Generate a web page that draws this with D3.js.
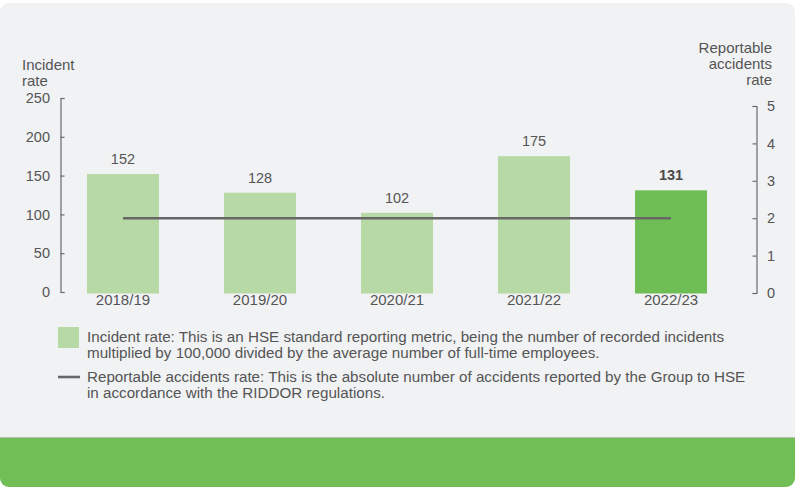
<!DOCTYPE html>
<html>
<head>
<meta charset="utf-8">
<script src="https://cdn.jsdelivr.net/npm/d3@7"></script>
<style>
  body { margin: 0; background: #fff; }
  svg { display: block; font-family: "Liberation Sans", Arial, sans-serif; }
</style>
</head>
<body>
<svg id="chart" width="795" height="487"></svg>
<script>
// chart data
var years = ["2018/19", "2019/20", "2020/21", "2021/22", "2022/23"];
var incidentRate = [152, 128, 102, 175, 131];
var reportableRate = [2, 2, 2, 2, 2];
var leftTicks = [0, 50, 100, 150, 200, 250];
var rightTicks = [0, 1, 2, 3, 4, 5];
var leftTitle = ["Incident", "rate"];
var rightTitle = ["Reportable", "accidents", "rate"];
var legendBar = ["Incident rate: This is an HSE standard reporting metric, being the number of recorded incidents",
                 "multiplied by 100,000 divided by the average number of full-time employees."];
var legendLine = ["Reportable accidents rate: This is the absolute number of accidents reported by the Group to HSE",
                  "in accordance with the RIDDOR regulations."];

var textCol = "#555", axisCol = "#6b6b6b";
var lightGreen = "#b6d9a6", darkGreen = "#6fbe55";

var svg = d3.select("#chart");

// card background
var defs = svg.append("defs");
defs.append("clipPath").attr("id", "card")
    .append("rect").attr("x", 0).attr("y", 3).attr("width", 795).attr("height", 484).attr("rx", 9);
var card = svg.append("g").attr("clip-path", "url(#card)");
card.append("rect").attr("x", 0).attr("y", 0).attr("width", 795).attr("height", 487).attr("fill", "#f1f2f4");
card.append("rect").attr("x", 0).attr("y", 437).attr("width", 795).attr("height", 50).attr("fill", "#70be55");
card.append("line").attr("x1", 0).attr("x2", 795).attr("y1", 437.5).attr("y2", 437.5)
    .attr("stroke", "#b7c2b2").attr("stroke-width", 1);

// scales
var x = d3.scaleBand().domain(years).range([54.5, 739.5]).paddingInner(0.4745).paddingOuter(0.237);
var yL = d3.scaleLinear().domain([0, 250]).range([292, 98]);
var yR = d3.scaleLinear().domain([0, 5]).range([293, 106]);

// bars
svg.selectAll(".bar")
   .data(incidentRate)
   .enter().append("rect")
   .attr("class", "bar")
   .attr("x", function(d, i) { return x(years[i]); })
   .attr("width", x.bandwidth())
   .attr("y", function(d) { return yL(d); })
   .attr("height", function(d) { return yL(0) - yL(d) + 1.5; })
   .attr("fill", function(d, i) { return i == years.length - 1 ? darkGreen : lightGreen; });

// value labels
svg.selectAll(".val")
   .data(incidentRate)
   .enter().append("text")
   .attr("x", function(d, i) { return x(years[i]) + x.bandwidth() / 2; })
   .attr("y", function(d) { return yL(d) - 10; })
   .attr("text-anchor", "middle")
   .attr("font-size", 14.5)
   .attr("font-weight", function(d, i) { return i == years.length - 1 ? "bold" : "normal"; })
   .attr("fill", function(d, i) { return i == years.length - 1 ? "#4a4a4a" : textCol; })
   .text(function(d) { return d; });

// line for reportable accidents rate
var line = d3.line()
  .x(function(d, i) { return x(years[i]) + x.bandwidth() / 2; })
  .y(function(d) { return yR(d); });
svg.append("path")
   .datum(reportableRate)
   .attr("d", line)
   .attr("fill", "none")
   .attr("stroke", "#676767")
   .attr("stroke-width", 2.6);

// left axis
var gl = svg.append("g").attr("transform", "translate(60.5,0)")
  .call(d3.axisRight(yL).tickValues(leftTicks).tickSize(4).tickSizeOuter(4).tickFormat(""));
gl.select(".domain").attr("stroke", axisCol).attr("stroke-width", 1.2);
gl.selectAll(".tick line").attr("stroke", axisCol).attr("stroke-width", 1.2);
svg.selectAll(".ltick").data(leftTicks).enter().append("text")
   .attr("x", 50).attr("y", function(d) { return yL(d); }).attr("dy", "0.36em")
   .attr("text-anchor", "end").attr("font-size", 14.5).attr("fill", textCol)
   .text(function(d) { return d; });

// right axis
var gr = svg.append("g").attr("transform", "translate(756.5,0)")
  .call(d3.axisLeft(yR).tickValues(rightTicks).tickSize(4).tickSizeOuter(4).tickFormat(""));
gr.select(".domain").attr("stroke", axisCol).attr("stroke-width", 1.2);
gr.selectAll(".tick line").attr("stroke", axisCol).attr("stroke-width", 1.2);
svg.selectAll(".rtick").data(rightTicks).enter().append("text")
   .attr("x", 767).attr("y", function(d) { return yR(d); }).attr("dy", "0.36em")
   .attr("text-anchor", "start").attr("font-size", 14.5).attr("fill", textCol)
   .text(function(d) { return d; });

// x labels
svg.selectAll(".xlab").data(years).enter().append("text")
   .attr("x", function(d) { return x(d) + x.bandwidth() / 2; })
   .attr("y", 305)
   .attr("text-anchor", "middle").attr("font-size", 15).attr("fill", textCol)
   .text(function(d) { return d; });

// axis titles
svg.selectAll(".lt").data(leftTitle).enter().append("text")
   .attr("x", 22).attr("y", function(d, i) { return 70 + i * 16; })
   .attr("font-size", 15).attr("fill", textCol).text(function(d) { return d; });
svg.selectAll(".rt").data(rightTitle).enter().append("text")
   .attr("x", 772).attr("y", function(d, i) { return 53 + i * 16; })
   .attr("text-anchor", "end")
   .attr("font-size", 15).attr("fill", textCol).text(function(d) { return d; });

// legend
svg.append("rect").attr("x", 58).attr("y", 327).attr("width", 21).attr("height", 21).attr("fill", lightGreen);
svg.append("line").attr("x1", 58).attr("x2", 80).attr("y1", 377).attr("y2", 377)
   .attr("stroke", "#676767").attr("stroke-width", 2.6);
svg.selectAll(".lg1").data(legendBar).enter().append("text")
   .attr("x", 87).attr("y", function(d, i) { return 342 + i * 16; })
   .attr("font-size", 15.2).attr("fill", textCol).text(function(d) { return d; });
svg.selectAll(".lg2").data(legendLine).enter().append("text")
   .attr("x", 87).attr("y", function(d, i) { return 382 + i * 16; })
   .attr("font-size", 15.2).attr("fill", textCol).text(function(d) { return d; });
</script>
</body>
</html>
